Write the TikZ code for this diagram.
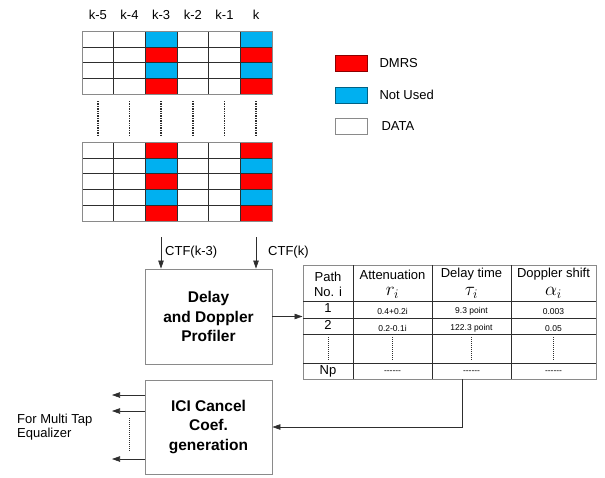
\documentclass[tikz,border=0pt]{standalone}
\usepackage{fontspec}
\setmainfont{Liberation Sans}
\usetikzlibrary{arrows.meta,positioning}
\definecolor{dmrsc}{HTML}{FF0000}
\definecolor{unusedc}{HTML}{00B0F0}
\definecolor{framec}{HTML}{8A8A8A}
\definecolor{linec}{HTML}{2E2E2E}

\tikzset{
  blockbox/.style={draw=framec, line width=0.9pt, minimum width=127pt,
    minimum height=95pt, align=center, inner sep=0pt,
    font=\fontsize{15.5}{19.3}\selectfont\bfseries},
  arr/.style={-{Triangle[length=8pt,width=5.5pt]}, draw=linec, line width=0.6pt},
  lbl/.style={font=\fontsize{13}{15}\selectfont, inner sep=2pt},
  val/.style={font=\fontsize{8.5}{10}\selectfont, inner sep=1pt},
  mathlbl/.style={font=\fontsize{17}{17}\selectfont, inner sep=0pt, scale=1.1},
  cellline/.style={draw=linec, line width=0.6pt},
  gridframe/.style={draw=framec, line width=1pt},
  legbox/.style={minimum width=32pt, minimum height=16pt, inner sep=0pt, line width=0.8pt},
  dotsline/.style={draw=linec, line width=1.6pt, dash pattern=on 1.3pt off 1.1pt},
  thindots/.style={draw=linec, line width=0.7pt, dash pattern=on 1pt off 1pt},
}

\begin{document}
\begin{tikzpicture}[x=1pt,y=-1pt]
  \useasboundingbox (0,0) rectangle (605,477);
  % subcarrier labels
  \foreach \i/\name in {0/k-5,1/k-4,2/k-3,3/k-2,4/k-1,5/k}
    \node[lbl] (sc\i) at (97.8+\i*31.67,15) {\name};
  % first slot
  \foreach \r/\c in {0/unusedc,1/dmrsc,2/unusedc,3/dmrsc}{
    \fill[\c] (145.3,31+\r*15.8) rectangle ++(31.67,15.8);
    \fill[\c] (240.3,31+\r*15.8) rectangle ++(31.67,15.8);}
  \foreach \i in {0,...,5}
    \foreach \r in {0,...,3}
      \draw[cellline] (82+\i*31.67,31+\r*15.8) rectangle ++(31.67,15.8);
  \draw[gridframe] (82,31) rectangle (272,94.2);
  \foreach \i in {0,...,5}
    \draw[dotsline] (97.8+\i*31.67,101) -- (97.8+\i*31.67,135);
  % last slot
  \foreach \r/\c in {0/dmrsc,1/unusedc,2/dmrsc,3/unusedc,4/dmrsc}{
    \fill[\c] (145.3,142+\r*15.8) rectangle ++(31.67,15.8);
    \fill[\c] (240.3,142+\r*15.8) rectangle ++(31.67,15.8);}
  \foreach \i in {0,...,5}
    \foreach \r in {0,...,4}
      \draw[cellline] (82+\i*31.67,142+\r*15.8) rectangle ++(31.67,15.8);
  \draw[gridframe] (82,142) rectangle (272,221);

  % legend
  \node[legbox, fill=dmrsc, draw=dmrsc!55!black] (lgdmrs) at (351,63) {};
  \node[legbox, fill=unusedc, draw=unusedc!55!black] (lgunused) at (351,95) {};
  \node[legbox, fill=white, draw=framec] (lgdata) at (351,126) {};
  \node[lbl, right=10pt of lgdmrs] (txdmrs) {DMRS};
  \node[lbl, right=10pt of lgunused] (txunused) {Not Used};
  \node[lbl, right=12pt of lgdata] (txdata) {DATA};

  % profiler
  \node[blockbox] (prof) at (208.5,316.5) {Delay\\and Doppler\\Profiler};
  \coordinate (ctfa) at (161,237);
  \coordinate (ctfb) at (256,237);
  \draw[arr] (ctfa) -- (ctfa |- prof.north);
  \draw[arr] (ctfb) -- (ctfb |- prof.north);
  \node[lbl, anchor=west] (ctfal) at (163,252) {CTF(k-3)};
  \node[lbl, anchor=west] (ctfbl) at (266,252) {CTF(k)};

  % path table
  \node[draw=framec, line width=1pt, minimum width=293pt, minimum height=114pt,
    inner sep=0pt] (tab) at (449.5,322) {};
  \foreach \x in {353,432,511}
    \draw[cellline] (\x,265) -- (\x,379);
  \foreach \y in {301,318,334,363}
    \draw[cellline] (303,\y) -- (596,\y);
  \node[lbl, align=center] (hpath) at (328,284) {Path\\No. i};
  \foreach \x/\nm/\hd/\sym in {392.5/att/Attenuation/r_i, 471.5/del/Delay time/\tau_i,
      553.5/dop/Doppler shift/\alpha_i}{
    \node[lbl, inner sep=0.5pt] (h\nm) at (\x,274.5) {\hd};
    \node[mathlbl] (s\nm) at (\x,293) {$\sym$};}
  \foreach \n/\y/\att/\del/\dop in {1/308/0.4+0.2i/9.3 point/0.003, 2/325/0.2-0.1i/122.3 point/0.05}{
    \node[lbl] (no\n) at (328,\y) {\n};
    \node[val] (att\n) at (392.5,\y+3.5) {\att};
    \node[val] (del\n) at (471.5,\y+3.5) {\del};
    \node[val] (dop\n) at (553.5,\y+3.5) {\dop};}
  \foreach \x in {328,392.5,471.5,553.5}
    \draw[thindots] (\x,337) -- (\x,360);
  \node[lbl] (nop) at (328,371) {Np};
  \foreach \x/\nm in {392.5/a,471.5/b,553.5/c}
    \node[val] (dash\nm) at (\x,372) {{-}{-}{-}{-}{-}{-}};
  \draw[arr] (prof.east) -- (prof.east -| tab.west);

  % ici coefficients
  \node[blockbox, minimum height=94pt] (ici) at (208.5,427) {ICI Cancel\\Coef.\\generation};
  \coordinate (tabout) at (462,379);
  \draw[arr] (tabout) |- (ici.east);
  \foreach \y [count=\n] in {395,411,459}{
    \coordinate (eq\n) at (112,\y);
    \draw[arr] (eq\n -| ici.west) -- (eq\n);}
  \draw[thindots, line width=1pt] (129,418) -- (129,452);
  \node[lbl, align=left, anchor=west, font=\fontsize{13}{14}\selectfont] (eqlbl) at (15,427) {For Multi Tap\\Equalizer};
\end{tikzpicture}
\end{document}
